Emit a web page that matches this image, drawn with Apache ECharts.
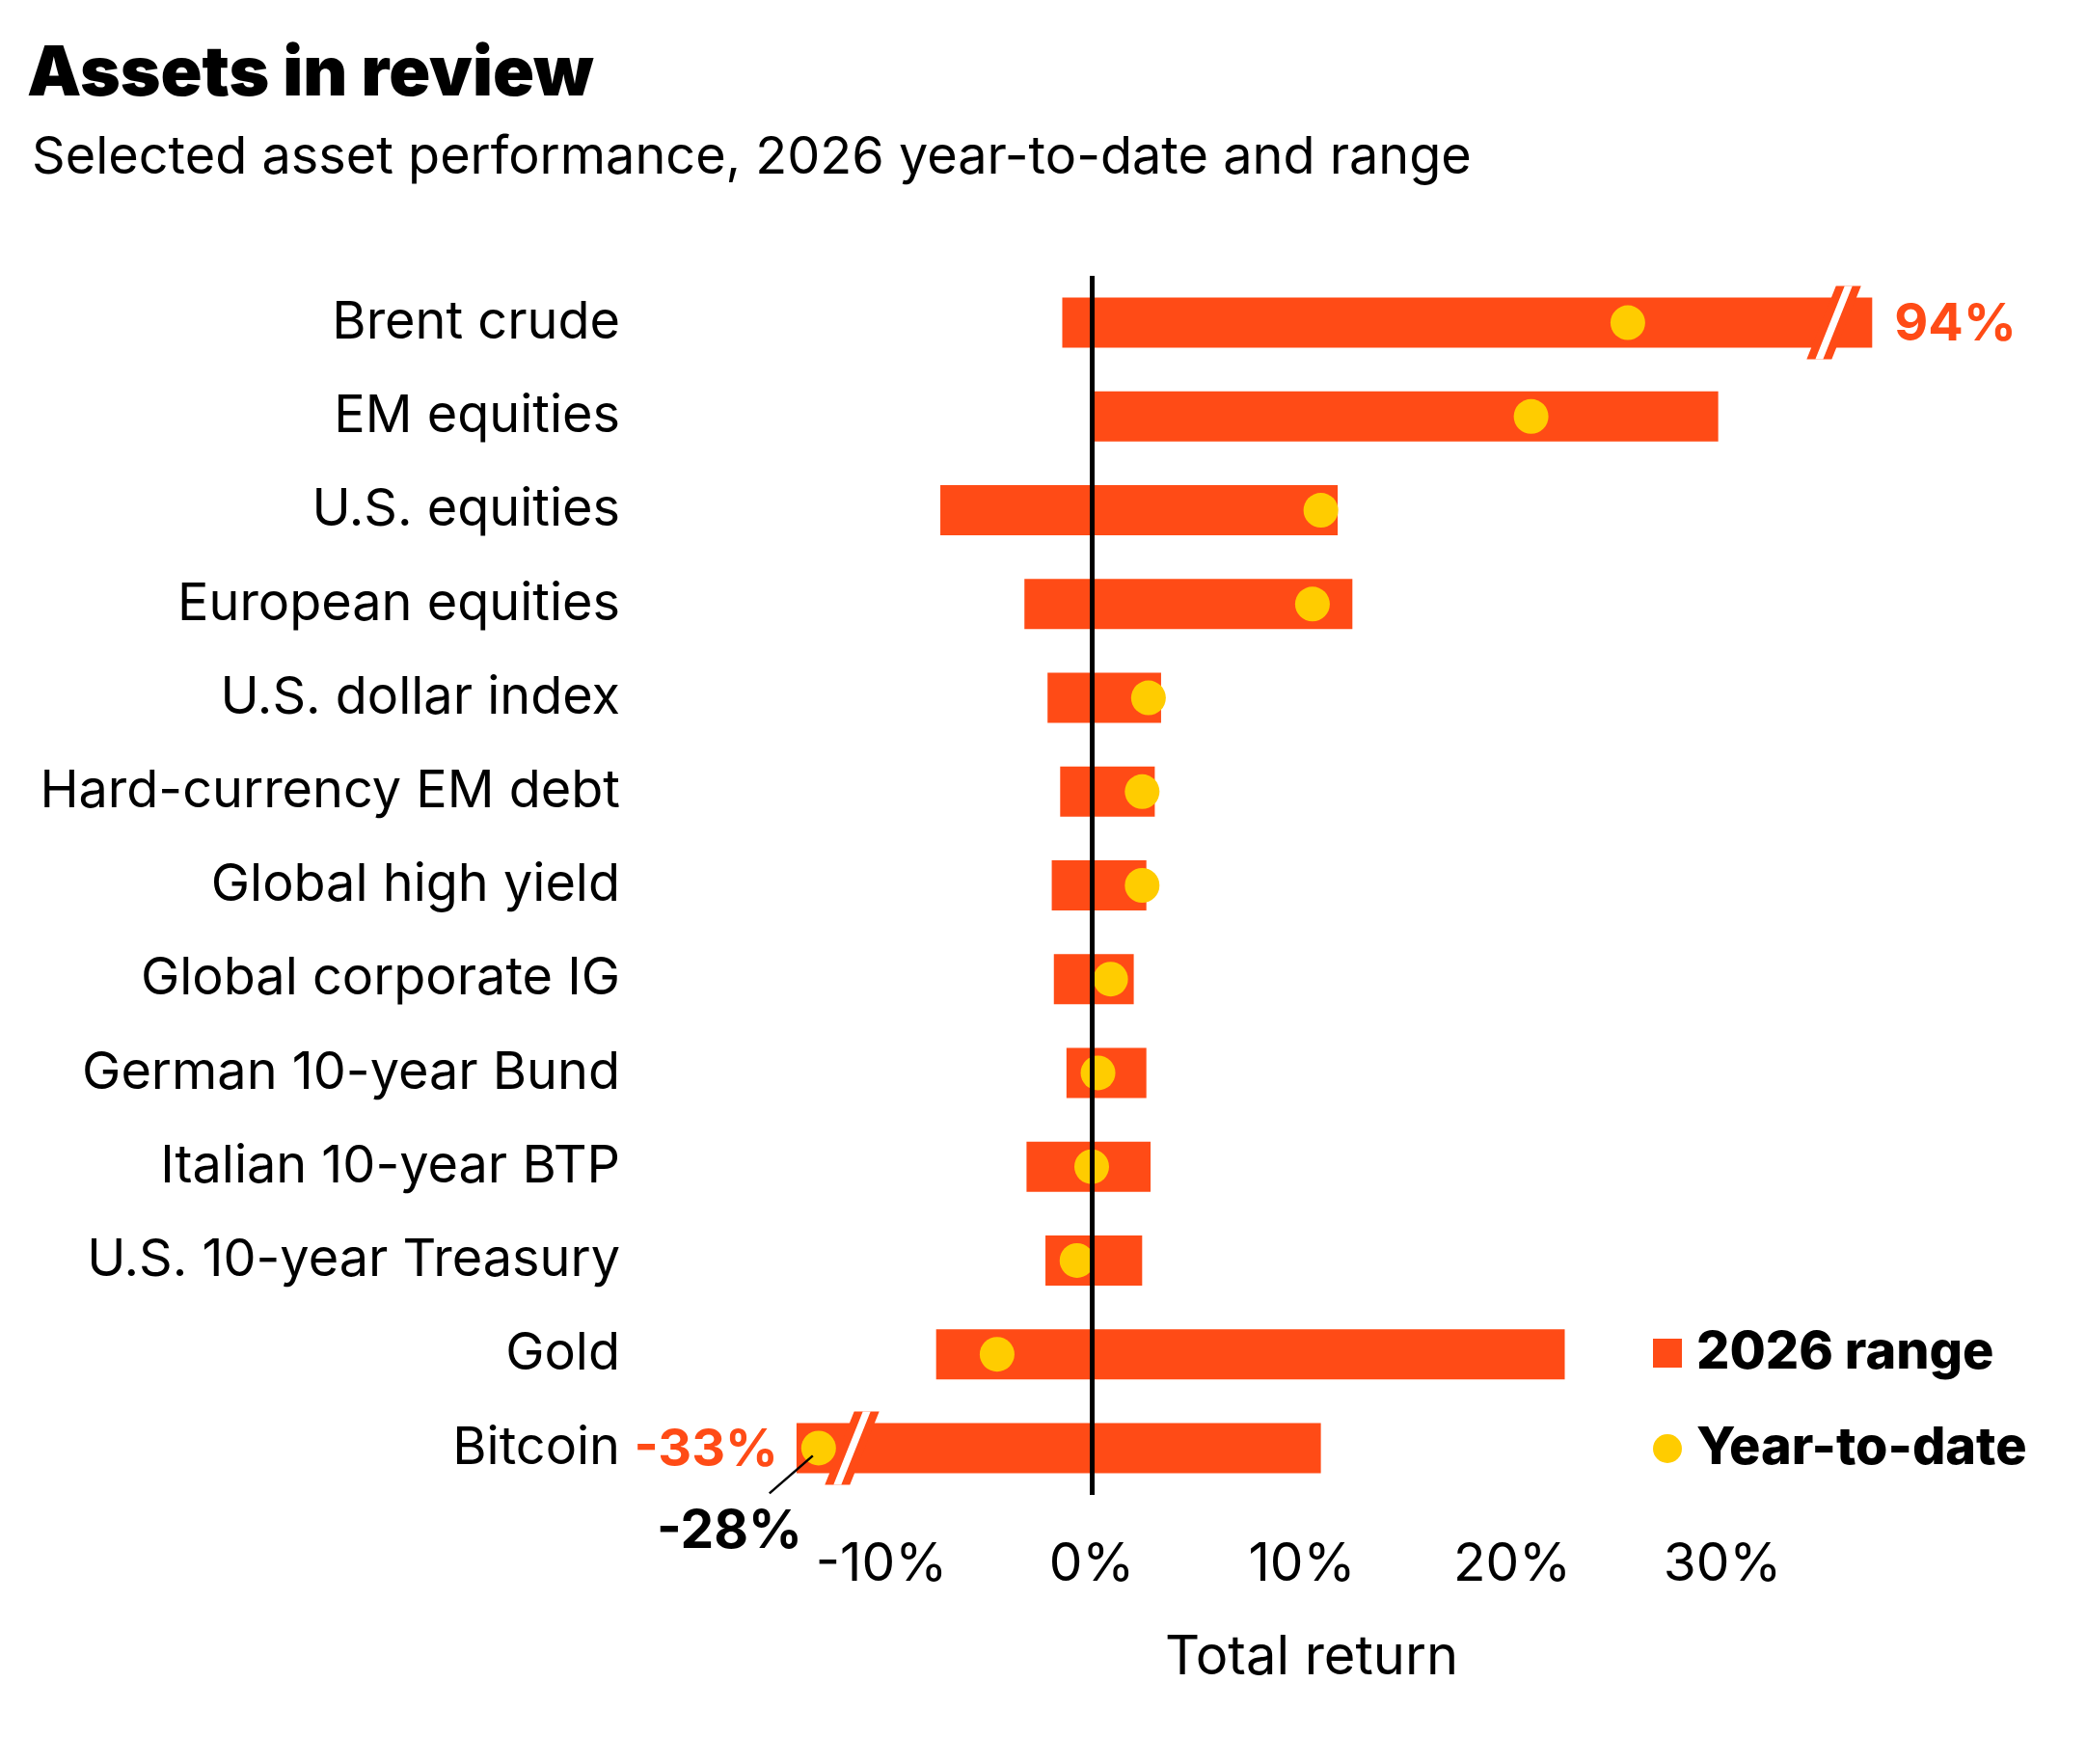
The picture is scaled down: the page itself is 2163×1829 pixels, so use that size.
<!DOCTYPE html>
<html lang="en">
<head>
    <meta charset="UTF-8">
    <title>Assets in review</title>
    <style>
        html, body { margin: 0; padding: 0; background: #fff; }
        #main { width: 2163px; height: 1829px; }
    </style>
</head>
<body>
    <div id="main"></div>
    <script src="https://cdn.jsdelivr.net/npm/echarts@6/dist/echarts.min.js"></script>
    <script>
        // data, in % total return
        var categories = ['Brent crude', 'EM equities', 'U.S. equities', 'European equities', 'U.S. dollar index',
            'Hard-currency EM debt', 'Global high yield', 'Global corporate IG', 'German 10-year Bund',
            'Italian 10-year BTP', 'U.S. 10-year Treasury', 'Gold', 'Bitcoin'];
        var rangeLow = [-1.4, 0, -7.2, -3.2, -2.1, -1.5, -1.9, -1.8, -1.2, -3.1, -2.2, -7.4, -33];
        var rangeHigh = [94, 29.8, 11.7, 12.4, 3.3, 3.0, 2.6, 2.0, 2.6, 2.8, 2.4, 22.5, 10.9];
        var ytd = [25.5, 20.9, 10.9, 10.5, 2.7, 2.4, 2.4, 0.9, 0.3, 0.0, -0.7, -4.5, -28];
        var tickLabels = [-10, 0, 10, 20, 30];

        var ORANGE = '#ff4b16';
        var YELLOW = '#ffcc00';
        var FONT = 'Inter';

        // values beyond these are squeezed onto the axis (broken bars)
        var xBreak = { hiFrom: 35, hiSquash: 0.036, loFrom: -9, loSquash: 0.21, hiMark: 35.3, loMark: -11.4 };

        function toAxis(v) {
            if (v > xBreak.hiFrom) return xBreak.hiFrom + (v - xBreak.hiFrom) * xBreak.hiSquash;
            if (v < xBreak.loFrom) return xBreak.loFrom + (v - xBreak.loFrom) * xBreak.loSquash;
            return v;
        }

        function pct(v) {
            return (v < 0 ? '-' : '') + Math.abs(v) + '%';
        }

        // the // mark cutting a bar
        function breakMark(cx, cy) {
            var k = 0.4, H = 38, W = 26, g = 8;
            function para(w) {
                return [[cx - w / 2 + k * H, cy - H], [cx + w / 2 + k * H, cy - H],
                        [cx + w / 2 - k * H, cy + H], [cx - w / 2 - k * H, cy + H]];
            }
            return [
                { type: 'polygon', shape: { points: para(W) }, style: { fill: ORANGE } },
                { type: 'polygon', shape: { points: para(g) }, style: { fill: '#fff' } }
            ];
        }

        function renderRange(params, api) {
            var y = api.value(2);
            var p0 = api.coord([api.value(0), y]);
            var p1 = api.coord([api.value(1), y]);
            var h = api.size([0, 1])[1] * 0.535;
            var lo = api.value(3), hi = api.value(4);
            var children = [{
                type: 'rect',
                shape: { x: p0[0], y: p0[1] - h / 2, width: p1[0] - p0[0], height: h },
                style: { fill: ORANGE }
            }];
            if (hi > xBreak.hiFrom) {
                children = children.concat(breakMark(api.coord([xBreak.hiMark, y])[0], p0[1]));
                children.push({ type: 'text', x: p1[0] + 23, y: p1[1] + 2,
                    style: { text: pct(hi), fill: ORANGE, font: 'bold 54px ' + FONT, align: 'left', verticalAlign: 'middle' } });
            }
            if (lo < xBreak.loFrom) {
                children = children.concat(breakMark(api.coord([xBreak.loMark, y])[0], p0[1]));
                children.push({ type: 'text', x: p0[0] - 19, y: p0[1] + 2,
                    style: { text: pct(lo), fill: ORANGE, font: 'bold 54px ' + FONT, align: 'right', verticalAlign: 'middle' } });
            }
            return { type: 'group', children: children };
        }

        function renderNote(params, api) {
            var p = api.coord([api.value(0), api.value(1)]);
            return {
                type: 'group',
                children: [
                    { type: 'line', shape: { x1: p[0] - 6, y1: p[1] + 8, x2: p[0] - 51, y2: p[1] + 47 },
                      style: { stroke: '#000', lineWidth: 2.5 } },
                    { type: 'text', x: p[0] - 17, y: p[1] + 87,
                      style: { text: pct(api.value(2)), fill: '#000', font: 'bold 55px ' + FONT, align: 'right', verticalAlign: 'middle' } }
                ]
            };
        }

        var rangeData = categories.map(function (c, i) {
            return [toAxis(rangeLow[i]), toAxis(rangeHigh[i]), i, rangeLow[i], rangeHigh[i]];
        });
        var ytdData = categories.map(function (c, i) { return [toAxis(ytd[i]), i]; });
        var noteData = [];
        ytd.forEach(function (v, i) {
            if (v < xBreak.loFrom || v > xBreak.hiFrom) noteData.push([toAxis(v), i, v]);
        });

        var mychart = echarts.init(document.getElementById('main'));
        var option = {
            backgroundColor: '#fff',
            animation: false,
            textStyle: { fontFamily: FONT },
            title: [
                { text: 'Assets in review', left: 28, top: 42, padding: 0,
                  textStyle: { fontSize: 71, fontWeight: 900, lineHeight: 72, color: '#000', fontFamily: FONT } },
                { text: 'Selected asset performance, 2026 year-to-date and range', left: 33, top: 137, padding: 0,
                  textStyle: { fontSize: 54, fontWeight: 400, lineHeight: 54, color: '#000', fontFamily: FONT } }
            ],
            legend: {
                orient: 'vertical', left: 1714, top: 1376, padding: 0,
                itemWidth: 30, itemHeight: 30, itemGap: 45, selectedMode: false,
                data: [{ name: '2026 range', icon: 'rect' }, { name: 'Year-to-date', icon: 'circle' }],
                textStyle: { fontSize: 54, fontWeight: 800, lineHeight: 52, color: '#000', fontFamily: FONT, padding: [0, 0, 0, 10] }
            },
            grid: { left: 696, right: 159, top: 286, bottom: 279 },
            xAxis: {
                type: 'value', min: -20, max: 40, interval: 10,
                axisLine: { show: false }, axisTick: { show: false }, splitLine: { show: false },
                axisLabel: {
                    margin: 45, fontSize: 55, lineHeight: 55, color: '#000',
                    formatter: function (v) { return tickLabels.indexOf(v) >= 0 ? pct(v) : ''; }
                },
                name: 'Total return', nameLocation: 'middle', nameGap: 141,
                nameTextStyle: { fontSize: 56, lineHeight: 56, color: '#000', padding: [0, 0, 0, 20] }
            },
            yAxis: {
                type: 'category', data: categories, inverse: true,
                axisLine: { show: false }, axisTick: { show: false }, splitLine: { show: false },
                axisLabel: { margin: 53, fontSize: 54, lineHeight: 54, color: '#000', padding: [10, 0, 0, 0] }
            },
            series: [
                {
                    name: '2026 range', type: 'custom', renderItem: renderRange, z: 2,
                    itemStyle: { color: ORANGE }, encode: { x: [0, 1], y: 2 }, data: rangeData
                },
                {
                    name: 'zero', type: 'line', data: [], z: 3, silent: true,
                    markLine: {
                        silent: true, symbol: 'none', label: { show: false },
                        lineStyle: { color: '#000', width: 5, type: 'solid' },
                        data: [{ xAxis: 0 }]
                    }
                },
                {
                    name: 'Year-to-date', type: 'scatter', symbol: 'circle', symbolSize: 36, z: 4,
                    itemStyle: { color: YELLOW, opacity: 1 }, data: ytdData
                },
                {
                    name: 'note', type: 'custom', renderItem: renderNote, z: 5,
                    encode: { x: 0, y: 1 }, data: noteData
                }
            ]
        };
        option && mychart.setOption(option);
    </script>
</body>
</html>
